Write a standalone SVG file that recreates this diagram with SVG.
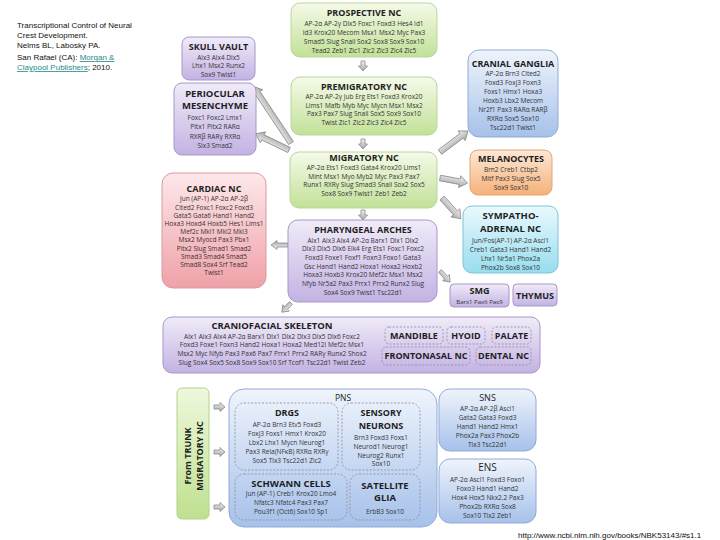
<svg xmlns="http://www.w3.org/2000/svg" width="720" height="540" viewBox="0 0 720 540">
<defs>
<linearGradient id="gG" x1="0" y1="0" x2="0" y2="1"><stop offset="0" stop-color="#f5fae9"/><stop offset="1" stop-color="#c2e198"/></linearGradient>
<linearGradient id="gP" x1="0" y1="0" x2="0" y2="1"><stop offset="0" stop-color="#f0ebf8"/><stop offset="1" stop-color="#c3b2e3"/></linearGradient>
<linearGradient id="gK" x1="0" y1="0" x2="0" y2="1"><stop offset="0" stop-color="#fde8ea"/><stop offset="1" stop-color="#efa1a8"/></linearGradient>
<linearGradient id="gB" x1="0" y1="0" x2="0" y2="1"><stop offset="0" stop-color="#eff4fc"/><stop offset="1" stop-color="#a6c1ea"/></linearGradient>
<linearGradient id="gO" x1="0" y1="0" x2="0" y2="1"><stop offset="0" stop-color="#fde8d6"/><stop offset="1" stop-color="#f5b17a"/></linearGradient>
<linearGradient id="gC" x1="0" y1="0" x2="0" y2="1"><stop offset="0" stop-color="#eaf9fd"/><stop offset="1" stop-color="#97ddef"/></linearGradient>
<linearGradient id="gT" x1="0" y1="0" x2="0" y2="1"><stop offset="0" stop-color="#eef8dc"/><stop offset="1" stop-color="#bfe08f"/></linearGradient>
<linearGradient id="gA" x1="0" y1="0" x2="0" y2="1"><stop offset="0" stop-color="#f4f4f4"/><stop offset="1" stop-color="#a4a4a4"/></linearGradient>
</defs>
<style>
.g{fill:url(#gG);stroke:#b9d59c;stroke-width:1}
.p{fill:url(#gP);stroke:#a797c9;stroke-width:1}
.k{fill:url(#gK);stroke:#d99aa1;stroke-width:1}
.b{fill:url(#gB);stroke:#92abd6;stroke-width:1}
.o{fill:url(#gO);stroke:#e2a574;stroke-width:1}
.c{fill:url(#gC);stroke:#7fc3d6;stroke-width:1}
.t{fill:url(#gT);stroke:#b3d38a;stroke-width:1}
.d{fill:none;stroke:#8c8c9c;stroke-width:0.8;stroke-dasharray:2 1.6}
.arr{fill:url(#gA);stroke:#8a8a8a;stroke-width:0.8;stroke-linejoin:round}
text{font-family:"Open Sans","Liberation Sans",sans-serif;fill:#1e1e1e}
.h{font-size:9px;font-weight:bold;text-anchor:middle}
.h2{font-size:9.5px;font-weight:bold;text-anchor:middle}
.r{font-size:9px;text-anchor:middle}
.s{font-size:6.5px;text-anchor:middle;fill:#333}
.hd{font-family:"Liberation Sans",Arial,sans-serif;font-size:8px;fill:#111}
.lk{fill:#1f8a8a;text-decoration:underline}
</style>

<g id="header">
<text class="hd" x="17" y="28">Transcriptional Control of Neural</text>
<text class="hd" x="17" y="38">Crest Development.</text>
<text class="hd" x="17" y="48">Nelms BL, Labosky PA.</text>
<text class="hd" x="17" y="60">San Rafael (CA): <tspan class="lk">Morgan &amp;</tspan></text>
<text class="hd" x="17" y="70"><tspan class="lk">Claypool Publishers</tspan>; 2010.</text>
</g>

<g id="connectors">
<path class="arr" d="M-2,0 V5 H-4.5 L0,10 L4.5,5 H2 V0 Z" transform="translate(363,61)"/>
<path class="arr" d="M-2,0 V5 H-4.5 L0,10 L4.5,5 H2 V0 Z" transform="translate(363,139)"/>
<path class="arr" d="M-2,0 V5 H-4.5 L0,10 L4.5,5 H2 V0 Z" transform="translate(363,210)"/>
<path class="arr" d="M0,-2.8 H60 V-6 L68,0 L60,6 V2.8 H0 Z" transform="translate(291,143) rotate(-123.7)"/>
<path class="arr" d="M0,-2.8 H29 V-6 L37,0 L29,6 V2.8 H0 Z" transform="translate(289,150) rotate(-154.1)"/>
<path class="arr" d="M0,-2.8 H27 V-6 L35,0 L27,6 V2.8 H0 Z" transform="translate(440,152) rotate(-36.9)"/>
<path class="arr" d="M0,-2.8 H20 V-6 L28,0 L20,6 V2.8 H0 Z" transform="translate(440,178) rotate(10.5)"/>
<path class="arr" d="M0,-2.8 H20 V-6 L28,0 L20,6 V2.8 H0 Z" transform="translate(442,198) rotate(47.9)"/>
<path class="arr" d="M0,-2 H11 V-4.5 L17,0 L11,4.5 V2 H0 Z" transform="translate(288,245) rotate(180)"/>
<path class="arr" d="M0,-2 H7 V-4.5 L13,0 L7,4.5 V2 H0 Z" transform="translate(291,303) rotate(135)"/>
<path class="arr" d="M0,-2 H9 V-4.5 L15,0 L9,4.5 V2 H0 Z" transform="translate(440,271) rotate(47.7)"/>
<path class="arr" d="M0,-2 H6 V-4.5 L11,0 L6,4.5 V2 H0 Z" transform="translate(214,407)"/>
<path class="arr" d="M0,-2 H6 V-4.5 L11,0 L6,4.5 V2 H0 Z" transform="translate(214,452)"/>
<path class="arr" d="M0,-2 H6 V-4.5 L11,0 L6,4.5 V2 H0 Z" transform="translate(214,507)"/>
</g>

<g id="prospective">
<rect class="g" x="291" y="3" width="146" height="54" rx="9"/>
<text class="h" x="364" y="16">PROSPECTIVE NC</text>
<text class="s" x="364" y="26.3">AP-2α AP-2γ Dlx5 Foxc1 Foxd3 Hes4 Id1</text>
<text class="s" x="364" y="35.2">Id3 Krox20 Mecom Msx1 Msx2 Myc Pax3</text>
<text class="s" x="364" y="44">Smad5 Slug Snail Sox2 Sox8 Sox9 Sox10</text>
<text class="s" x="364" y="52.7">Tead2 Zeb1 Zic1 Zic2 Zic3 Zic4 Zic5</text>
</g>

<g id="premigratory">
<rect class="g" x="291" y="77" width="146" height="58" rx="9"/>
<text class="h" x="364" y="89.5">PREMIGRATORY NC</text>
<text class="s" x="364" y="99">AP-2α AP-2γ Jub Erg Ets1 Foxd3 Krox20</text>
<text class="s" x="364" y="107.7">Lims1 Mafb Myb Myc Mycn Msx1 Msx2</text>
<text class="s" x="364" y="116.4">Pax3 Pax7 Slug Snail Sox5 Sox9 Sox10</text>
<text class="s" x="364" y="125.1">Twist Zic1 Zic2 Zic3 Zic4 Zic5</text>
</g>

<g id="migratory">
<rect class="g" x="290" y="152" width="147" height="56" rx="9"/>
<text class="h" x="364" y="160.5">MIGRATORY NC</text>
<text class="s" x="364" y="170">AP-2α Ets1 Foxd3 Gata4 Krox20 Lims1</text>
<text class="s" x="364" y="178.7">Mint Msx1 Myo Myb2 Myc Pax3 Pax7</text>
<text class="s" x="364" y="187.4">Runx1 RXRγ Slug Smad3 Snail Sox2 Sox5</text>
<text class="s" x="364" y="196.1">Sox8 Sox9 Twist1 Zeb1 Zeb2</text>
</g>

<g id="pharyngeal">
<rect class="p" x="288" y="220" width="149" height="82" rx="10"/>
<text class="h" x="363" y="232.5">PHARYNGEAL ARCHES</text>
<text class="s" x="363" y="242.5">Alx1 Alx3 Alx4 AP-2α Barx1 Dlx1 Dlx2</text>
<text class="s" x="363" y="251.2">Dlx3 Dlx5 Dlx6 Elk4 Erg Ets1 Foxc1 Foxc2</text>
<text class="s" x="363" y="259.9">Foxd3 Foxe1 Foxf1 Foxn3 Foxo1 Gata3</text>
<text class="s" x="363" y="268.6">Gsc Hand1 Hand2 Hoxa1 Hoxa2 Hoxb2</text>
<text class="s" x="363" y="277.3">Hoxa3 Hoxb3 Krox20 Mef2c Msx1 Msx2</text>
<text class="s" x="363" y="286">Nfyb Nr5a2 Pax3 Prrx1 Prrx2 Runx2 Slug</text>
<text class="s" x="363" y="294.7">Sox4 Sox9 Twist1 Tsc22d1</text>
</g>

<g id="skull">
<rect class="p" x="182" y="37" width="73" height="43" rx="7"/>
<text class="h" x="218.5" y="49.6">SKULL VAULT</text>
<text class="s" x="218.5" y="59.5">Alx3 Alx4 Dlx5</text>
<text class="s" x="218.5" y="68.2">Lhx1 Msx2 Runx2</text>
<text class="s" x="218.5" y="76.8">Sox9 Twist1</text>
</g>

<g id="periocular">
<rect class="p" x="174" y="83" width="82" height="72" rx="8"/>
<text class="h2" x="215" y="96.5">PERIOCULAR</text>
<text class="h2" x="215" y="108.5">MESENCHYME</text>
<text class="s" x="215" y="119.5">Foxc1 Foxc2 Lmx1</text>
<text class="s" x="215" y="129.2">Pitx1 Pitx2 RARα</text>
<text class="s" x="215" y="138.6">RXRβ RARγ RXRα</text>
<text class="s" x="215" y="147.8">Six3 Smad2</text>
</g>

<g id="cardiac">
<rect class="k" x="162" y="173" width="104" height="115" rx="11"/>
<text class="h" x="214" y="191.5">CARDIAC NC</text>
<text class="s" x="214" y="201.3">Jun (AP-1) AP-2α AP-2β</text>
<text class="s" x="214" y="209.5">Cited2 Foxc1 Foxc2 Foxd3</text>
<text class="s" x="214" y="217.7">Gata5 Gata6 Hand1 Hand2</text>
<text class="s" x="214" y="225.9">Hoxa3 Hoxd4 Hoxb5 Hes1 Lims1</text>
<text class="s" x="214" y="234.1">Mef2c Mkl1 Mkl2 Mkl3</text>
<text class="s" x="214" y="242.3">Msx2 Myocd Pax3 Pbx1</text>
<text class="s" x="214" y="250.5">Pitx2 Slug Smad1 Smad2</text>
<text class="s" x="214" y="258.7">Smad3 Smad4 Smad5</text>
<text class="s" x="214" y="266.9">Smad8 Sox4 Srf Tead2</text>
<text class="s" x="214" y="275.1">Twist1</text>
</g>

<g id="cranial">
<rect class="b" x="468" y="50" width="90" height="87" rx="11"/>
<text class="h" x="513" y="66.5">CRANIAL GANGLIA</text>
<text class="s" x="513" y="76.3">AP-2α Brn3 Cited2</text>
<text class="s" x="513" y="85.2">Foxd3 Foxj3 Foxn3</text>
<text class="s" x="513" y="94.1">Foxs1 Hmx1 Hoxa3</text>
<text class="s" x="513" y="103">Hoxb3 Lbx2 Mecom</text>
<text class="s" x="513" y="111.9">Nr2f1 Pax3 RARα RARβ</text>
<text class="s" x="513" y="120.8">RXRα Sox5 Sox10</text>
<text class="s" x="513" y="129.7">Tsc22d1 Twist1</text>
</g>

<g id="melanocytes">
<rect class="o" x="470" y="150" width="82" height="45" rx="8"/>
<text class="h" x="511" y="162">MELANOCYTES</text>
<text class="s" x="511" y="172.3">Brn2 Creb1 Ctbp2</text>
<text class="s" x="511" y="181.3">Mitf Pax3 Slug Sox5</text>
<text class="s" x="511" y="190.3">Sox9 Sox10</text>
</g>

<g id="sympatho">
<rect class="c" x="463" y="206" width="95" height="67" rx="9"/>
<text class="h2" x="510.5" y="219.3">SYMPATHO-</text>
<text class="h2" x="510.5" y="232">ADRENAL NC</text>
<text class="s" x="510.5" y="242.5">Jun/Fos(AP-1) AP-2α Ascl1</text>
<text class="s" x="510.5" y="251.5">Creb1 Gata3 Hand1 Hand2</text>
<text class="s" x="510.5" y="260.5">Lhx1 Nr5a1 Phox2a</text>
<text class="s" x="510.5" y="269.5">Phox2b Sox8 Sox10</text>
</g>

<g id="smg">
<rect class="p" x="450" y="284" width="59" height="23" rx="4"/>
<text class="h" x="479.5" y="294.3">SMG</text>
<text class="s" x="479.5" y="303.8" style="font-size:6px">Barx1 Pax6 Pax9</text>
</g>

<g id="thymus">
<rect class="p" x="513" y="284" width="44" height="22" rx="4"/>
<text class="h" x="535" y="298.6">THYMUS</text>
</g>

<g id="craniofacial">
<rect class="p" x="163" y="317" width="377" height="56" rx="9"/>
<text class="h" x="272" y="328.8" style="font-size:9.5px">CRANIOFACIAL SKELETON</text>
<text class="s" x="272" y="338.6">Alx1 Alx3 Alx4 AP-2α Barx1 Dlx1 Dlx2 Dlx3 Dlx5 Dlx6 Foxc2</text>
<text class="s" x="272" y="347.3">Foxd3 Foxe1 Foxn3 Hand2 Hoxa1 Hoxa2 Med12l Mef2c Msx1</text>
<text class="s" x="272" y="356.1">Msx2 Myc Nfyb Pax3 Pax6 Pax7 Prrx1 Prrx2 RARγ Runx2 Shox2</text>
<text class="s" x="272" y="364.9">Slug Sox4 Sox5 Sox8 Sox9 Sox10 Srf Tcof1 Tsc22d1 Twist Zeb2</text>
</g>
<g id="mandible"><rect class="d" x="385" y="327" width="58" height="17" rx="4"/><text class="h" x="414" y="338.7">MANDIBLE</text></g>
<g id="hyoid"><rect class="d" x="447" y="327" width="38" height="17" rx="4"/><text class="h" x="466" y="338.7">HYOID</text></g>
<g id="palate"><rect class="d" x="492" y="327" width="39" height="17" rx="4"/><text class="h" x="511.5" y="338.7">PALATE</text></g>
<g id="frontonasal"><rect class="d" x="382" y="347" width="88" height="18" rx="4"/><text class="h" x="426" y="359.2">FRONTONASAL NC</text></g>
<g id="dental"><rect class="d" x="476" y="347" width="55" height="18" rx="4"/><text class="h" x="503.5" y="359.2">DENTAL NC</text></g>

<g id="trunk">
<rect class="t" x="177" y="388" width="32" height="131" rx="5"/>
<text class="h" transform="translate(191.3,456) rotate(-90)">From TRUNK</text>
<text class="h" transform="translate(202.5,456) rotate(-90)">MIGRATORY NC</text>
</g>

<g id="pns">
<rect class="b" x="229" y="389" width="208" height="138" rx="15"/>
<text class="r" x="343" y="400.5" style="font-size:8.5px">PNS</text>
</g>
<g id="drgs">
<rect class="d" x="235" y="403" width="103" height="67" rx="9"/>
<text class="h" x="287" y="416.3">DRGS</text>
<text class="s" x="287" y="426.5">AP-2α Brn3 Etv5 Foxd3</text>
<text class="s" x="287" y="435.5">Foxj3 Foxs1 Hmx1 Krox20</text>
<text class="s" x="287" y="444.5">Lbx2 Lhx1 Mycn Neurog1</text>
<text class="s" x="287" y="453.5">Pax3 Rela(NFκB) RXRα RXRγ</text>
<text class="s" x="287" y="462.5">Sox5 Tlx3 Tsc22d1 Zic2</text>
</g>
<g id="sensory">
<rect class="d" x="342" y="403" width="78" height="67" rx="9"/>
<text class="h" x="381" y="416.3">SENSORY</text>
<text class="h" x="381" y="428.5">NEURONS</text>
<text class="s" x="381" y="439.5">Brn3 Foxd3 Foxs1</text>
<text class="s" x="381" y="448.5">Neurod1 Neurog1</text>
<text class="s" x="381" y="457.5">Neurog2 Runx1</text>
<text class="s" x="381" y="466.3">Sox10</text>
</g>
<g id="schwann">
<rect class="d" x="235" y="474" width="112" height="46" rx="9"/>
<text class="h2" x="291" y="486.5">SCHWANN CELLS</text>
<text class="s" x="291" y="496.4">Jun (AP-1) Creb1 Krox20 Lmo4</text>
<text class="s" x="291" y="505.1">Nfatc3 Nfatc4 Pax3 Pax7</text>
<text class="s" x="291" y="513.8">Pou3f1 (Oct6) Sox10 Sp1</text>
</g>
<g id="satellite">
<rect class="d" x="350" y="474" width="70" height="46" rx="9"/>
<text class="h2" x="385" y="488.5">SATELLITE</text>
<text class="h2" x="385" y="501">GLIA</text>
<text class="s" x="385" y="513.5">ErbB3 Sox10</text>
</g>

<g id="sns">
<rect class="b" x="439" y="389" width="97" height="62" rx="11"/>
<text class="r" x="487.5" y="400.8">SNS</text>
<text class="s" x="487.5" y="410.5">AP-2α AP-2β Ascl1</text>
<text class="s" x="487.5" y="419.5">Gata2 Gata3 Foxd3</text>
<text class="s" x="487.5" y="428.5">Hand1 Hand2 Hmx1</text>
<text class="s" x="487.5" y="437.5">Phox2a Pax3 Phox2b</text>
<text class="s" x="487.5" y="446.5">Tlx3 Tsc22d1</text>
</g>

<g id="ens">
<rect class="b" x="439" y="459" width="97" height="64" rx="11"/>
<text class="r" x="487.5" y="471" style="font-size:10px">ENS</text>
<text class="s" x="487.5" y="481.5">AP-2α Ascl1 Foxd3 Foxo1</text>
<text class="s" x="487.5" y="490.5">Foxo3 Hand1 Hand2</text>
<text class="s" x="487.5" y="500">Hox4 Hox5 Nkx2.2 Pax3</text>
<text class="s" x="487.5" y="509.3">Phox2b RXRα Sox8</text>
<text class="s" x="487.5" y="518.3">Sox10 Tlx2 Zeb1</text>
</g>

<g id="footer">
<text class="hd" x="518" y="538">http://www.ncbi.nlm.nih.gov/books/NBK53143/#s1.1</text>
</g>
</svg>
